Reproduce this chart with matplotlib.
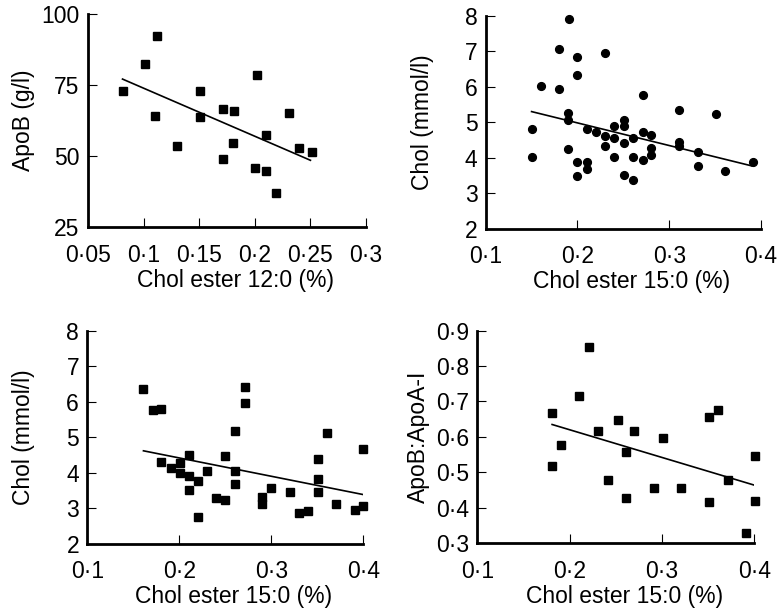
import matplotlib
matplotlib.use("Agg")
import matplotlib.pyplot as plt

# top left: ApoB vs chol ester 12:0
apob_x: list[float] = [0.081, 0.101, 0.112, 0.110, 0.130, 0.151, 0.151, 0.171, 0.181, 0.180,
                       0.171, 0.202, 0.200, 0.210, 0.210, 0.219, 0.231, 0.240, 0.251]
apob_y: list[float] = [73.0, 82.3, 92.2, 64.2, 53.6, 73.0, 63.9, 66.6, 65.7, 54.7,
                       48.8, 78.7, 45.9, 44.8, 57.4, 37.0, 65.0, 53.0, 51.5]
apob_fit_x: list[float] = [0.081, 0.250]
apob_fit_y: list[float] = [77.1, 48.5]

# top right: chol vs chol ester 15:0 (circles)
chol_a_x: list[float] = [0.191, 0.180, 0.200, 0.230, 0.200, 0.160, 0.180, 0.271, 0.311, 0.351,
                         0.190, 0.190, 0.150, 0.150, 0.210, 0.220, 0.230, 0.230, 0.240, 0.240,
                         0.240, 0.251, 0.251, 0.251, 0.251, 0.261, 0.260, 0.260, 0.271, 0.271,
                         0.280, 0.280, 0.280, 0.190, 0.200, 0.200, 0.210, 0.210, 0.311, 0.311,
                         0.331, 0.331, 0.361, 0.391]
chol_a_y: list[float] = [7.91, 7.05, 6.85, 6.96, 6.33, 6.02, 5.93, 5.78, 5.35, 5.23,
                         5.27, 5.06, 4.80, 4.01, 4.80, 4.72, 4.60, 4.34, 4.88, 4.56,
                         4.01, 5.05, 4.90, 4.42, 3.50, 4.55, 4.01, 3.36, 4.73, 3.95,
                         4.65, 4.28, 4.07, 4.24, 3.88, 3.48, 3.88, 3.67, 4.43, 4.34,
                         4.17, 3.77, 3.63, 3.89]
chol_a_fit_x: list[float] = [0.150, 0.390]
chol_a_fit_y: list[float] = [5.30, 3.77]

# bottom left: chol vs chol ester 15:0 (squares)
chol_b_x: list[float] = [0.161, 0.171, 0.180, 0.180, 0.191, 0.201, 0.201, 0.211, 0.211, 0.210,
                         0.220, 0.220, 0.230, 0.240, 0.250, 0.250, 0.260, 0.260, 0.260, 0.271,
                         0.271, 0.290, 0.290, 0.300, 0.320, 0.330, 0.340, 0.351, 0.351, 0.351,
                         0.360, 0.370, 0.391, 0.400, 0.400]
chol_b_y: list[float] = [6.36, 5.76, 5.79, 4.30, 4.13, 4.29, 3.98, 4.49, 3.91, 3.51,
                         3.77, 2.75, 4.05, 3.28, 4.46, 3.22, 5.17, 4.05, 3.67, 6.41,
                         5.96, 3.33, 3.13, 3.58, 3.45, 2.86, 2.91, 4.38, 3.83, 3.45,
                         5.11, 3.12, 2.95, 3.06, 4.66]
chol_b_fit_x: list[float] = [0.161, 0.399]
chol_b_fit_y: list[float] = [4.62, 3.39]

# bottom right: ApoB:ApoA-I vs chol ester 15:0
ratio_x: list[float] = [0.181, 0.181, 0.191, 0.210, 0.221, 0.231, 0.241, 0.252, 0.261, 0.261,
                        0.270, 0.291, 0.301, 0.321, 0.351, 0.361, 0.351, 0.371, 0.391, 0.401,
                        0.401]
ratio_y: list[float] = [0.667, 0.518, 0.576, 0.715, 0.853, 0.616, 0.478, 0.647, 0.427, 0.557,
                        0.616, 0.457, 0.597, 0.457, 0.656, 0.676, 0.416, 0.478, 0.329, 0.546,
                        0.420]
ratio_fit_x: list[float] = [0.181, 0.400]
ratio_fit_y: list[float] = [0.635, 0.464]

x_ticks_12: list[float] = [0.05, 0.10, 0.15, 0.20, 0.25, 0.30]
x_labels_12: list[str] = ["0·05", "0·1", "0·15", "0·2", "0·25", "0·3"]
x_ticks_15: list[float] = [0.1, 0.2, 0.3, 0.4]
x_labels_15: list[str] = ["0·1", "0·2", "0·3", "0·4"]
apob_ticks: list[float] = [25, 50, 75, 100]
chol_ticks: list[float] = [2, 3, 4, 5, 6, 7, 8]
ratio_ticks: list[float] = [0.3, 0.4, 0.5, 0.6, 0.7, 0.8, 0.9]
ratio_labels: list[str] = ["0·3", "0·4", "0·5", "0·6", "0·7", "0·8", "0·9"]

FONT_SIZE = 16.5


def draw_panel(ax, xs, ys, fit_x, fit_y, marker, xticks, xlabels, yticks, ylabels,
               xlabel, ylabel, ylabel_x) -> None:
    ax.plot(xs, ys, linestyle="none", marker=marker, color="black",
            markersize=5.6 if marker == "o" else 5.2, clip_on=False, zorder=3)
    ax.plot(fit_x, fit_y, color="black", linewidth=1.2, zorder=2)

    ax.set_xlim(xticks[0], xticks[-1])
    ax.set_ylim(yticks[0], yticks[-1])
    ax.set_xticks(xticks, xlabels)
    ax.set_yticks(yticks, ylabels)

    for side in ("top", "right"):
        ax.spines[side].set_visible(False)
    for side in ("left", "bottom"):
        ax.spines[side].set_linewidth(2.0)
        ax.spines[side].set_capstyle("projecting")

    ax.tick_params(axis="both", direction="in", length=6.5, width=0.8,
                   labelsize=FONT_SIZE, color="black")
    ax.tick_params(axis="x", pad=12)
    ax.tick_params(axis="y", pad=6)

    ax.set_xlabel(xlabel, fontsize=FONT_SIZE)
    ax.set_ylabel(ylabel, fontsize=FONT_SIZE)
    ax.xaxis.set_label_coords(0.53, -0.195)
    ax.yaxis.set_label_coords(ylabel_x, 0.5)


plt.rcParams["font.family"] = ["Liberation Sans", "DejaVu Sans"]

fig = plt.figure(figsize=(7.77, 6.08), dpi=100)
ax1 = fig.add_axes([0.1133, 0.6266, 0.3578, 0.3503])
ax2 = fig.add_axes([0.6251, 0.6238, 0.3543, 0.3503])
ax3 = fig.add_axes([0.1124, 0.1058, 0.3552, 0.3498])
ax4 = fig.add_axes([0.6143, 0.1064, 0.3565, 0.3500])

draw_panel(ax1, apob_x, apob_y, apob_fit_x, apob_fit_y, "s",
           x_ticks_12, x_labels_12, apob_ticks, [str(t) for t in apob_ticks],
           "Chol ester 12:0 (%)", "ApoB (g/l)", -0.191)
draw_panel(ax2, chol_a_x, chol_a_y, chol_a_fit_x, chol_a_fit_y, "o",
           x_ticks_15, x_labels_15, chol_ticks, [str(t) for t in chol_ticks],
           "Chol ester 15:0 (%)", "Chol (mmol/l)", -0.188)
draw_panel(ax3, chol_b_x, chol_b_y, chol_b_fit_x, chol_b_fit_y, "s",
           x_ticks_15, x_labels_15, chol_ticks, [str(t) for t in chol_ticks],
           "Chol ester 15:0 (%)", "Chol (mmol/l)", -0.19)
draw_panel(ax4, ratio_x, ratio_y, ratio_fit_x, ratio_fit_y, "s",
           x_ticks_15, x_labels_15, ratio_ticks, ratio_labels,
           "Chol ester 15:0 (%)", "ApoB:ApoA-I", -0.171)

fig.savefig("out.png", dpi=100)
plt.close(fig)
